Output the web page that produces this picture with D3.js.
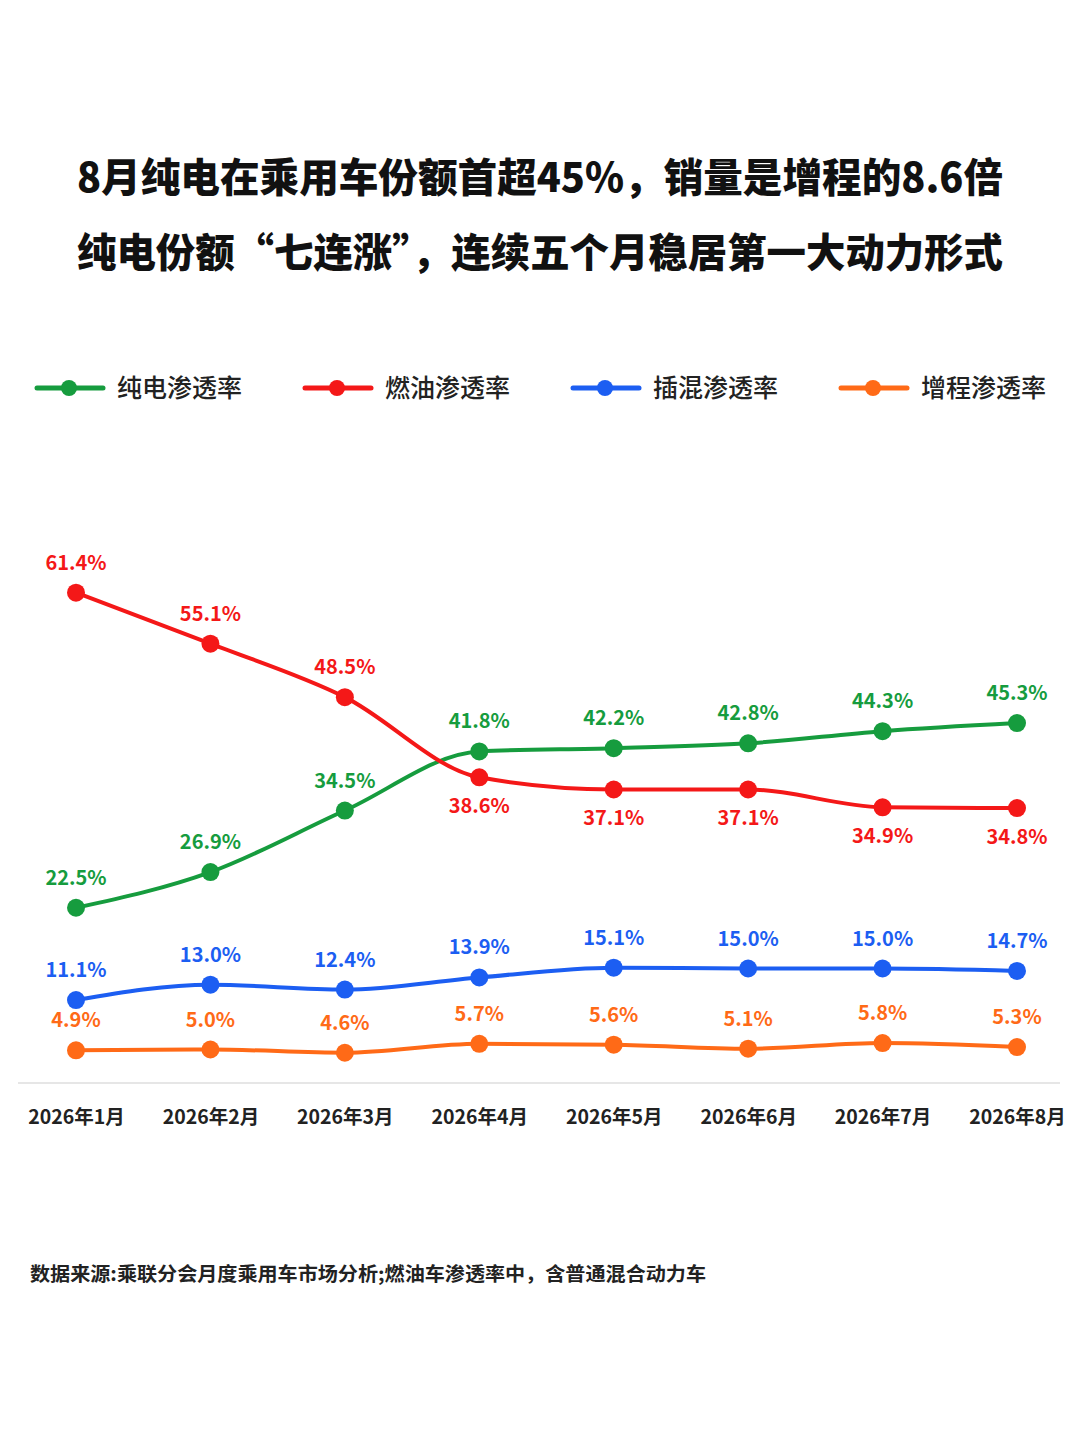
<!DOCTYPE html>
<html><head><meta charset="utf-8">
<script src="https://cdn.jsdelivr.net/npm/d3@7/dist/d3.min.js"></script>
<style>
html,body{margin:0;padding:0;background:#fff;}
svg{display:block;font-family:"Noto Sans CJK SC","Noto Sans",sans-serif;}
</style></head>
<body>
<svg id="chart" width="1080" height="1440"></svg>
<script>
const months = ["2026年1月","2026年2月","2026年3月","2026年4月","2026年5月","2026年6月","2026年7月","2026年8月"];
const bevValues  = [22.5, 26.9, 34.5, 41.8, 42.2, 42.8, 44.3, 45.3];
const iceValues  = [61.4, 55.1, 48.5, 38.6, 37.1, 37.1, 34.9, 34.8];
const phevValues = [11.1, 13.0, 12.4, 13.9, 15.1, 15.0, 15.0, 14.7];
const erevValues = [4.9, 5.0, 4.6, 5.7, 5.6, 5.1, 5.8, 5.3];
const seriesNames = ["纯电渗透率","燃油渗透率","插混渗透率","增程渗透率"];
const seriesColors = ["#169c3e","#f41818","#1c5ef2","#ff6a17"];
const titleLines = ["8月纯电在乘用车份额首超45%，销量是增程的8.6倍","纯电份额“七连涨”，连续五个月稳居第一大动力形式"];
const footnote = "数据来源:乘联分会月度乘用车市场分析;燃油车渗透率中，含普通混合动力车";

const series = [bevValues, iceValues, phevValues, erevValues].map((v,i)=>({name:seriesNames[i], color:seriesColors[i], values:v, idx:i}));

const svg = d3.select("#chart");
svg.append("rect").attr("width",1080).attr("height",1440).attr("fill","#fff");

// Title
svg.selectAll("text.title").data(titleLines).join("text")
  .attr("class","title")
  .attr("x",540).attr("y",(d,i)=>192+i*75)
  .attr("text-anchor","middle")
  .attr("font-size",40).attr("font-weight",900).attr("fill","#111")
  .attr("textLength",926).attr("lengthAdjust","spacingAndGlyphs")
  .text(d=>d);

// Legend
const legendX = [37,305,573,841];
const lg = svg.selectAll("g.legend").data(series).join("g").attr("class","legend")
  .attr("transform",(d,i)=>`translate(${legendX[i]},388)`);
lg.append("line").attr("x1",0).attr("x2",66).attr("y1",0).attr("y2",0)
  .attr("stroke",d=>d.color).attr("stroke-width",5).attr("stroke-linecap","round");
lg.append("circle").attr("cx",32).attr("cy",0).attr("r",8).attr("fill",d=>d.color);
lg.append("text").attr("x",80).attr("y",9).attr("font-size",25).attr("font-weight",500)
  .attr("fill","#222").text(d=>d.name);

// Scales
const x = d3.scalePoint().domain(months).range([76,1017]);
const y = d3.scaleLinear().domain([0,65]).range([1090,563.5]);

// Baseline
svg.append("line").attr("x1",18).attr("x2",1060).attr("y1",1083).attr("y2",1083)
  .attr("stroke","#e6e6e6").attr("stroke-width",2);

// X axis
const xAxis = svg.append("g").attr("transform","translate(0,1083)")
  .call(d3.axisBottom(x).tickSize(0).tickPadding(0));
xAxis.select(".domain").remove();
xAxis.selectAll("text").attr("dy",0).attr("y",41)
  .attr("font-size",19.5).attr("font-weight",700).attr("fill","#222")
  .attr("font-family","'Noto Sans CJK SC','Noto Sans',sans-serif");

// Lines
const line = d3.line().x((d,i)=>x(months[i])).y(d=>y(d)).curve(d3.curveMonotoneX);
const g = svg.selectAll("g.series").data(series).join("g").attr("class","series");
g.append("path").attr("d",d=>line(d.values)).attr("fill","none")
  .attr("stroke",d=>d.color).attr("stroke-width",4).attr("stroke-linejoin","round");
g.selectAll("circle").data(d=>d.values.map((v,i)=>({v,i,color:d.color,idx:d.idx}))).join("circle")
  .attr("cx",d=>x(months[d.i])).attr("cy",d=>y(d.v)).attr("r",9).attr("fill",d=>d.color);
g.selectAll("text").data(d=>d.values.map((v,i)=>({v,i,color:d.color,idx:d.idx}))).join("text")
  .attr("x",d=>x(months[d.i]))
  .attr("y",d=>{const below = d.idx===1 && d.i>=3; return y(d.v) + (below ? 36 : -23);})
  .attr("text-anchor","middle").attr("font-size",20).attr("font-weight",700)
  .attr("fill",d=>d.color).text(d=>d.v.toFixed(1)+"%");

// Footnote
svg.append("text").attr("x",30).attr("y",1281).attr("font-size",19).attr("font-weight",700)
  .attr("fill","#222").attr("textLength",676).attr("lengthAdjust","spacingAndGlyphs").text(footnote);
</script>
</body></html>
